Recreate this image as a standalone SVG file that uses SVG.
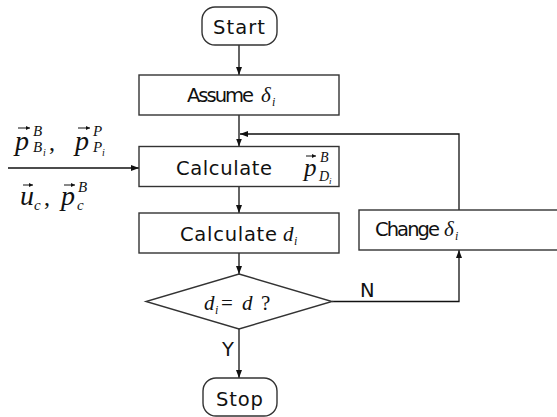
<svg xmlns="http://www.w3.org/2000/svg" width="557" height="417" viewBox="0 0 557 417">
<style>
.box{fill:#fff;stroke:#333;stroke-width:1.4}
.ln{fill:none;stroke:#111;stroke-width:1.3}
.t{font-family:"DejaVu Sans",sans-serif;font-size:19.5px;fill:#111}
.m{font-family:"Liberation Serif",serif;font-style:italic;fill:#111}
.r{font-family:"Liberation Serif",serif;fill:#111}
.va{fill:none;stroke:#111;stroke-width:1}
</style>
<defs>
<marker id="ah" markerWidth="8" markerHeight="6" refX="8" refY="3" orient="auto" markerUnits="userSpaceOnUse">
<path d="M0,0 L8,3 L0,6 Z" fill="#111"/>
</marker>
<marker id="vh" markerWidth="4" markerHeight="4" refX="4" refY="2" orient="auto" markerUnits="userSpaceOnUse">
<path d="M0,0 L4,2 L0,4 Z" fill="#111"/>
</marker>
</defs>
<g id="connectors">
<path class="ln" d="M239,45 V75" marker-end="url(#ah)"/>
<path class="ln" d="M239,115 V146.5" marker-end="url(#ah)"/>
<path class="ln" d="M459,210 V134 H240" marker-end="url(#ah)"/>
<path class="ln" d="M8,168 H139" marker-end="url(#ah)"/>
<path class="ln" d="M239,187 V213" marker-end="url(#ah)"/>
<path class="ln" d="M239,253 V274" marker-end="url(#ah)"/>
<path class="ln" d="M332,301.5 H459 V250" marker-end="url(#ah)"/>
<path class="ln" d="M239,329 V378" marker-end="url(#ah)"/>
<text class="t" x="360" y="297" font-size="21">N</text>
<text class="t" x="222" y="356" font-size="22">Y</text>
</g>
<g id="start">
<rect class="box" x="202" y="7" width="75" height="38" rx="13"/>
<text class="t" x="213" y="34" textLength="52">Start</text>
</g>
<g id="assume">
<rect class="box" x="139" y="75" width="200" height="40"/>
<text class="t" x="187" y="102" textLength="67">Assume</text>
<text class="m" x="261" y="102" font-size="21">δ</text>
<text class="m" x="272" y="106" font-size="12">i</text>
</g>
<g id="calc1">
<rect class="box" x="139" y="146.5" width="200" height="40"/>
<text class="t" x="176" y="175" textLength="96">Calculate</text>
<text class="m" x="304" y="176" font-size="25">p</text>
<path class="va" d="M306,156 H316" marker-end="url(#vh)"/>
<text class="m" x="320" y="162" font-size="14">B</text>
<text class="m" x="319" y="181" font-size="14">D</text>
<text class="m" x="329" y="184" font-size="9">i</text>
</g>
<g id="calc2">
<rect class="box" x="139" y="213" width="200" height="40"/>
<text class="t" x="180" y="241" textLength="97">Calculate</text>
<text class="m" x="283" y="241" font-size="21">d</text>
<text class="m" x="294" y="245" font-size="12">i</text>
</g>
<g id="decision">
<polygon class="box" points="239,274 332,301.5 239,329 146,301.5"/>
<text class="m" x="204" y="310" font-size="21">d</text>
<text class="m" x="215" y="314" font-size="12">i</text>
<text class="r" x="221" y="310" font-size="21">=</text>
<text class="m" x="242" y="310" font-size="21">d</text>
<text class="r" x="261" y="310" font-size="21">?</text>
</g>
<g id="change">
<rect class="box" x="359" y="210" width="200" height="40"/>
<text class="t" x="375" y="236" textLength="65">Change</text>
<text class="m" x="444" y="236" font-size="21">δ</text>
<text class="m" x="455" y="240" font-size="12">i</text>
</g>
<g id="stop">
<rect class="box" x="203" y="378" width="74" height="38" rx="13"/>
<text class="t" x="216" y="406" textLength="47">Stop</text>
</g>
<g id="inputs">
<text class="m" x="15" y="150" font-size="28">p</text>
<path class="va" d="M18,128 H30" marker-end="url(#vh)"/>
<text class="m" x="33" y="136" font-size="15">B</text>
<text class="m" x="33" y="152" font-size="15">B</text>
<text class="m" x="43" y="156" font-size="10">i</text>
<text class="r" x="49" y="150" font-size="24">,</text>
<text class="m" x="75" y="150" font-size="28">p</text>
<path class="va" d="M78,128 H90" marker-end="url(#vh)"/>
<text class="m" x="93" y="136" font-size="15">P</text>
<text class="m" x="93" y="152" font-size="15">P</text>
<text class="m" x="102" y="156" font-size="10">i</text>
<text class="m" x="20" y="205" font-size="28">u</text>
<path class="va" d="M23,185 H33" marker-end="url(#vh)"/>
<text class="m" x="34" y="210" font-size="15">c</text>
<text class="r" x="44" y="205" font-size="24">,</text>
<text class="m" x="61" y="205" font-size="28">p</text>
<path class="va" d="M64,185 H75" marker-end="url(#vh)"/>
<text class="m" x="77" y="210" font-size="15">c</text>
<text class="m" x="78" y="192" font-size="15">B</text>
</g>
</svg>
